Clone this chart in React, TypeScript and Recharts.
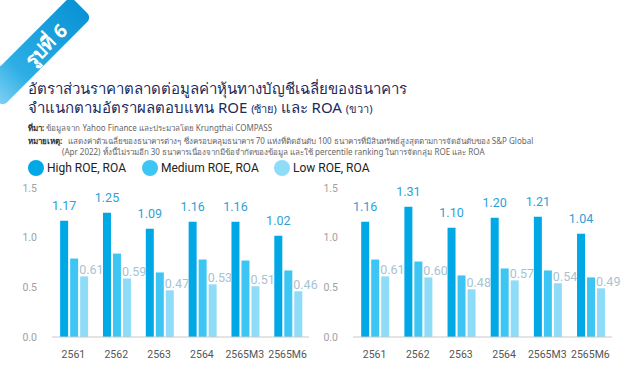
import React from "react";
import { BarChart, Bar, XAxis, YAxis, LabelList } from "recharts";

const categories = ["2561", "2562", "2563", "2564", "2565M3", "2565M6"];
const roeHigh = [1.17, 1.25, 1.09, 1.16, 1.16, 1.02];
const roeMedium = [0.79, 0.84, 0.65, 0.78, 0.77, 0.67];
const roeLow = [0.61, 0.59, 0.47, 0.53, 0.51, 0.46];
const roaHigh = [1.16, 1.31, 1.1, 1.2, 1.21, 1.04];
const roaMedium = [0.78, 0.76, 0.62, 0.69, 0.67, 0.6];
const roaLow = [0.61, 0.6, 0.48, 0.57, 0.54, 0.49];
const yTicks = [0, 0.5, 1.0, 1.5];
const seriesNames = ["High ROE, ROA", "Medium ROE, ROA", "Low ROE, ROA"];

const C_HIGH = "#00a8e6";
const C_MED = "#3dc6f4";
const C_LOW = "#8fdcf8";
const FONT = "Roboto, 'Noto Sans', sans-serif";

const build = (h: number[], m: number[], l: number[]) =>
  categories.map((c, i) => ({ cat: c, high: h[i], medium: m[i], low: l[i] }));

const roeData = build(roeHigh, roeMedium, roeLow);
const roaData = build(roaHigh, roaMedium, roaLow);

const HighLabel = (props: any) => {
  const { x, y, width, value } = props;
  return (
    <text x={x + width / 2} y={y - 15} textAnchor="middle" dominantBaseline="central" fill="#2e9fd9" fontSize={12.5} fontFamily={FONT}>
      {Number(value).toFixed(2)}
    </text>
  );
};
const LowLabel = (props: any) => {
  const { x, y, value } = props;
  return (
    <text x={x - 1} y={y - 7} textAnchor="start" dominantBaseline="central" fill="#a6c3d2" fontSize={12.5} fontFamily={FONT}>
      {Number(value).toFixed(2)}
    </text>
  );
};

const Chart = ({ data, left, yWidth, width, right }: any) => (
  <div style={{ position: "absolute", left, top: 170 }}>
    <BarChart width={width} height={196} data={data} margin={{ top: 18, right, bottom: 0, left: 0 }} barCategoryGap="19%" barGap={2}>
      <XAxis dataKey="cat" axisLine={{ stroke: "#c8c8c8" }} tickLine={false} height={29} tick={{ fill: "#555", fontSize: 10.5, fontFamily: FONT }} tickMargin={8} interval={0} />
      <YAxis domain={[0, 1.5]} ticks={yTicks} width={yWidth} axisLine={false} tickLine={false} tickSize={0} tickMargin={15} tick={{ fill: "#a0a0a0", fontSize: 10.5, fontFamily: FONT }} tickFormatter={(v: number) => v.toFixed(1)} />
      <Bar dataKey="high" fill={C_HIGH} isAnimationActive={false}>
        <LabelList dataKey="high" content={HighLabel} />
      </Bar>
      <Bar dataKey="medium" fill={C_MED} isAnimationActive={false} />
      <Bar dataKey="low" fill={C_LOW} isAnimationActive={false}>
        <LabelList dataKey="low" content={LowLabel} />
      </Bar>
    </BarChart>
  </div>
);

const Ribbon = () => (
  <svg width={100} height={110} style={{ position: "absolute", left: 0, top: 0 }}>
    <defs>
      <linearGradient id="rb" x1="0" y1="0" x2="1" y2="0">
        <stop offset="0" stopColor="#7fd0f4" />
        <stop offset="0.3" stopColor="#2caee5" />
        <stop offset="1" stopColor="#0a93d5" />
      </linearGradient>
      <linearGradient id="curl" x1="0" y1="0" x2="0.6" y2="1">
        <stop offset="0" stopColor="#0a7cbf" />
        <stop offset="1" stopColor="#d8f1fc" />
      </linearGradient>
    </defs>
    <path d="M0,66 L22,78 L11,95 L2,99 L0,98 Z" fill="url(#curl)" />
    <g transform="translate(45,43) rotate(-45)">
      <rect x={-75} y={-15} width={126} height={30} rx={6} fill="url(#rb)" />
      <text x={-1} y={2} textAnchor="middle" dominantBaseline="central" fill="#fff" fontSize={19} fontWeight={700} fontFamily="'Noto Sans', sans-serif">
        รูปที่ 6
      </text>
    </g>
  </svg>
);

const LegendItem = ({ color, label, left }: any) => (
  <div style={{ position: "absolute", left, top: 160, display: "flex", alignItems: "center" }}>
    <div style={{ width: 16, height: 16, borderRadius: 8, background: color }} />
    <span style={{ marginLeft: 3, fontSize: 12, color: "#222", fontFamily: FONT, lineHeight: "16px", whiteSpace: "nowrap" }}>{label}</span>
  </div>
);

const TFONT = "'Noto Sans', sans-serif";

export default function App() {
  return (
    <div style={{ position: "absolute", left: 0, top: 0, width: 624, height: 366, background: "#fff", overflow: "hidden", fontFamily: TFONT }}>
      <Ribbon />
      <div style={{ position: "absolute", left: 28, top: 79, fontSize: 15, lineHeight: "18px", color: "#1b2b5c", whiteSpace: "nowrap" }}>
        อัตราส่วนราคาตลาดต่อมูลค่าหุ้นทางบัญชีเฉลี่ยของธนาคาร
      </div>
      <div style={{ position: "absolute", left: 28, top: 98, fontSize: 15, lineHeight: "18px", color: "#1b2b5c", whiteSpace: "nowrap" }}>
        จำแนกตามอัตราผลตอบแทน ROE <span style={{ fontSize: 11 }}>(ซ้าย)</span> และ ROA <span style={{ fontSize: 11 }}>(ขวา)</span>
      </div>
      <div style={{ position: "absolute", left: 28, top: 122, fontSize: 8, lineHeight: "11px", color: "#666", whiteSpace: "nowrap" }}>
        <b style={{ color: "#333" }}>ที่มา:</b> ข้อมูลจาก Yahoo Finance และประมวลโดย Krungthai COMPASS
      </div>
      <div style={{ position: "absolute", left: 28, top: 135, fontSize: 8, lineHeight: "11px", color: "#666", whiteSpace: "nowrap" }}>
        <b style={{ color: "#333" }}>หมายเหตุ:</b>&nbsp;&nbsp; แสดงค่าตัวเฉลี่ยของธนาคารต่างๆ ซึ่งครอบคลุมธนาคาร 70 แห่งที่ติดอันดับ 100 ธนาคารที่มีสินทรัพย์สูงสุดตามการจัดอันดับของ S&amp;P Global
      </div>
      <div style={{ position: "absolute", left: 62, top: 146, fontSize: 8, lineHeight: "11px", color: "#666", whiteSpace: "nowrap" }}>
        (Apr 2022) ทั้งนี้ไม่รวมอีก 30 ธนาคารเนื่องจากมีข้อจำกัดของข้อมูล และใช้ percentile ranking ในการจัดกลุ่ม ROE และ ROA
      </div>
      <LegendItem color={C_HIGH} label={seriesNames[0]} left={28} />
      <LegendItem color={C_MED} label={seriesNames[1]} left={142} />
      <LegendItem color={C_LOW} label={seriesNames[2]} left={274} />
      <Chart data={roeData} left={0} yWidth={52} width={330} right={21} />
      <Chart data={roaData} left={300} yWidth={53} width={324} right={12} />
    </div>
  );
}
